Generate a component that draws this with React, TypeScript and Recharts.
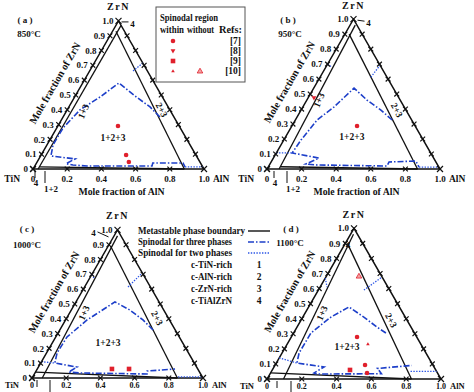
import React from "react";
import { ScatterChart, Scatter, XAxis, YAxis } from "recharts";

const W = 474;
const H = 392;
const FONT = "'Liberation Serif', 'Times New Roman', serif";
const INK = "#111";
const RED = "#e0202c";
const BLUE = "#1d3fc9";
const BLUE_DOT = "#2b55e6";
const S60 = Math.sqrt(3) / 2;

// ternary points are [AlN fraction, ZrN fraction]
type T = [number, number];
type RefPoint = { a: number; z: number; ref: string; within: boolean };
type Region = { text: string; a: number; z: number; rot?: number };

const zrnTicks = [0, 0.1, 0.2, 0.3, 0.4, 0.5, 0.6, 0.7, 0.8, 0.9, 1.0];
const zrnTickLabels = ["0", "0.1", "0.2", "0.3", "0.4", "0.5", "0.6", "0.7", "0.8", "0.9", "1.0"];
const alnTicks = [0, 0.2, 0.4, 0.6, 0.8, 1.0];
const alnTickLabels = ["0", "0.2", "0.4", "0.6", "0.8", "1.0"];
const rightTicks = [0.1, 0.2, 0.3, 0.4, 0.5, 0.6, 0.7, 0.8, 0.9];

// (a) 850 °C
const metastableA: T[][] = [
  [[0.03, 0], [0.03, 0.97]],
  [[0.02, 0.93], [0.885, 0]],
  [[0.03, 0.015], [0.885, 0]],
];
const spinodal3A: T[] = [
  [0.567, 0.351], [0.475, 0.419], [0.35, 0.493], [0.212, 0.581], [0.149, 0.486], [0.075, 0.399],
  [0.037, 0.277], [0.036, 0.162], [0.061, 0.088], [0.212, 0.068], [0.175, 0.036], [0.22, 0.027],
  [0.306, 0.02], [0.686, 0.02], [0.68, 0.041], [0.857, 0.041], [0.882, 0.014],
];
const spinodal2A: T[][] = [
  [[0.254, 0.662], [0.285, 0.716]],
  [[0.882, 0.014], [0.986, 0.014]],
];
const refPointsA: RefPoint[] = [
  { a: 0.352, z: 0.29, ref: "7", within: true },
  { a: 0.497, z: 0.095, ref: "7", within: true },
  { a: 0.537, z: 0.047, ref: "7", within: true },
];
const regionsA: Region[] = [
  { text: "1+2+3", a: 0.363, z: 0.209 },
  { text: "1+3", a: 0.1, z: 0.39, rot: -66 },
  { text: "2+3", a: 0.553, z: 0.4, rot: 62 },
];

// (b) 950 °C
const metastableB: T[][] = [
  [[0.07, 0], [0.03, 0.96]],
  [[0.025, 0.9], [0.87, 0]],
  [[0.07, 0.015], [0.87, 0]],
];
const spinodal3B: T[] = [
  [0.56, 0.327], [0.462, 0.393], [0.348, 0.46], [0.233, 0.54], [0.18, 0.413], [0.126, 0.327],
  [0.1, 0.193], [0.092, 0.107], [0.264, 0.073], [0.208, 0.033], [0.276, 0.027], [0.684, 0.02],
  [0.682, 0.047], [0.834, 0.053], [0.872, 0.013],
];
const spinodal2B: T[][] = [
  [[0, 0.107], [0.092, 0.107]],
  [[0.872, 0.013], [0.987, 0.013]],
  [[0.294, 0.613], [0.307, 0.693]],
  [[0, 0.7], [0.035, 0.68]],
];
const refPointsB: RefPoint[] = [
  { a: 0.377, z: 0.287, ref: "7", within: true },
  { a: 0.035, z: 0.473, ref: "8", within: true },
];
const regionsB: Region[] = [
  { text: "1+2+3", a: 0.384, z: 0.213 },
  { text: "1+3", a: 0.07, z: 0.46, rot: -66 },
  { text: "2+3", a: 0.555, z: 0.393, rot: 62 },
];

// (c) 1000 °C
const metastableC: T[][] = [
  [[0.06, 0], [0.02, 0.96]],
  [[0.015, 0.89], [0.85, 0]],
  [[0, 0.04], [0.85, 0]],
];
const spinodal3C: T[] = [
  [0.546, 0.324], [0.453, 0.392], [0.343, 0.459], [0.228, 0.514], [0.126, 0.392], [0.066, 0.277],
  [0.062, 0.169], [0.083, 0.101], [0.226, 0.074], [0.195, 0.04], [0.264, 0.034], [0.659, 0.027],
  [0.65, 0.047], [0.806, 0.061],
];
const spinodal2C: T[][] = [
  [[0, 0.11], [0.083, 0.101]],
  [[0.85, 0.008], [0.99, 0.008]],
  [[0.254, 0.615], [0.29, 0.709]],
  [[0, 0.7], [0.03, 0.67]],
];
const refPointsC: RefPoint[] = [
  { a: 0.437, z: 0.061, ref: "9", within: true },
  { a: 0.537, z: 0.061, ref: "9", within: true },
];
const regionsC: Region[] = [
  { text: "1+2+3", a: 0.327, z: 0.236 },
  { text: "1+3", a: 0.084, z: 0.44, rot: -66 },
  { text: "2+3", a: 0.53, z: 0.405, rot: 62 },
];

// (d) 1100 °C
const metastableD: T[][] = [
  [[0.095, 0], [0.017, 0.96]],
  [[0.012, 0.9], [0.83, 0]],
  [[0, 0.04], [0.83, 0]],
];
const spinodal3D: T[] = [
  [0.531, 0.305], [0.459, 0.345], [0.351, 0.411], [0.232, 0.478], [0.162, 0.411], [0.1, 0.305],
  [0.098, 0.173], [0.119, 0.106], [0.288, 0.08], [0.25, 0.04], [0.27, 0.033], [0.64, 0.035],
  [0.6, 0.07], [0.787, 0.09],
];
const spinodal2D: T[][] = [
  [[0, 0.14], [0.119, 0.106]],
  [[0.8, 0.05], [0.95, 0.05]],
  [[0.262, 0.59], [0.323, 0.677]],
  [[0, 0.67], [0.04, 0.61]],
];
const refPointsD: RefPoint[] = [
  { a: 0.187, z: 0.683, ref: "10", within: false },
  { a: 0.378, z: 0.279, ref: "7", within: true },
  { a: 0.464, z: 0.232, ref: "10", within: true },
  { a: 0.447, z: 0.06, ref: "9", within: true },
  { a: 0.517, z: 0.093, ref: "7", within: true },
  { a: 0.555, z: 0.04, ref: "7", within: true },
];
const regionsD: Region[] = [
  { text: "1+2+3", a: 0.354, z: 0.212 },
  { text: "1+3", a: 0.097, z: 0.438, rot: -66 },
  { text: "2+3", a: 0.518, z: 0.39, rot: 62 },
];

const refRows = ["[7]", "[8]", "[9]", "[10]"];
const legendLines = ["Metastable phase boundary", "Spinodal for three phases", "Spinodal for two phases"];
const phaseNames = ["c-TiN-rich", "c-AlN-rich", "c-ZrN-rich", "c-TiAlZrN"];
const phaseNums = ["1", "2", "3", "4"];

const PANELS = [
  {
    id: "a", ox: 33, oy: 169, L: 171, tag: "( a )", temp: "850°C", tagAt: [25, 20], tempAt: [29, 34],
    meta: metastableA, sp3: spinodal3A, sp2: spinodal2A, pts: refPointsA, regions: regionsA,
    leaders: [2, 12], four: { tx: 14, ty: 3, l: [3, 1, 10, 1] }, bottom: true,
  },
  {
    id: "b", ox: 267, oy: 169, L: 173, tag: "( b )", temp: "950°C", tagAt: [288, 20], tempAt: [290, 34],
    meta: metastableB, sp3: spinodal3B, sp2: spinodal2B, pts: refPointsB, regions: regionsB,
    leaders: [7, 20], four: { tx: 15, ty: 4, l: [4, 1, 11, 2] }, bottom: true,
  },
  {
    id: "c", ox: 32, oy: 378, L: 171, tag: "( c )", temp: "1000°C", tagAt: [27, 229], tempAt: [27, 245],
    meta: metastableC, sp3: spinodal3C, sp2: spinodal2C, pts: refPointsC, regions: regionsC,
    leaders: [5, 18], four: { tx: -24, ty: 3, l: [-20, 2, -9, 7] }, bottom: false,
  },
  {
    id: "d", ox: 267, oy: 379, L: 174, tag: "( d )", temp: "1100°C", tagAt: [291, 229], tempAt: [290, 243],
    meta: metastableD, sp3: spinodal3D, sp2: spinodal2D, pts: refPointsD, regions: regionsD,
    leaders: [10, 24], four: { tx: -6, ty: 17, l: null as number[] | null }, bottom: false,
  },
];

type Panel = (typeof PANELS)[number];

function toXY(p: Panel, a: number, z: number) {
  return { x: p.ox + p.L * (a + z / 2), y: p.oy - p.L * z * S60 };
}

function markerEl(x: number, y: number, ref: string, within: boolean) {
  if (ref === "7") return <circle cx={x} cy={y} r={2.3} fill={RED} />;
  if (ref === "8") return <path d={`M${x - 2.4},${y - 1.8}L${x + 2.4},${y - 1.8}L${x},${y + 2.4}Z`} fill={RED} />;
  if (ref === "9") return <rect x={x - 2.3} y={y - 2.3} width={4.6} height={4.6} fill={RED} />;
  if (within) return <path d={`M${x - 1.8},${y + 1.3}L${x + 1.8},${y + 1.3}L${x},${y - 1.8}Z`} fill={RED} />;
  return <path d={`M${x - 2.8},${y + 2}L${x + 2.8},${y + 2}L${x},${y - 2.8}Z`} fill="#f3a3a3" stroke={RED} strokeWidth={0.8} />;
}

function decoShape(props: any) {
  const { cx, cy, payload: d } = props;
  if (cx == null || cy == null) return <g />;
  if (d.kind === "text") {
    return (
      <text
        x={cx}
        y={cy}
        dy="0.35em"
        textAnchor={d.anchor || "start"}
        fontSize={d.size || 9}
        fontWeight={d.weight || "bold"}
        fontFamily={FONT}
        fill={INK}
        letterSpacing={d.ls}
        textLength={d.len}
        lengthAdjust={d.len ? "spacingAndGlyphs" : undefined}
        transform={d.rot ? `rotate(${d.rot} ${cx} ${cy})` : undefined}
      >
        {d.text}
      </text>
    );
  }
  if (d.kind === "rect") {
    return <rect x={cx} y={cy} width={d.w} height={d.h} fill="none" stroke="#555" strokeWidth={1} />;
  }
  if (d.kind === "seg") {
    return (
      <line
        x1={cx}
        y1={cy}
        x2={cx + d.dx}
        y2={cy + d.dy}
        stroke={d.stroke || INK}
        strokeWidth={d.width || 1}
        strokeDasharray={d.dash}
      />
    );
  }
  if (d.kind === "marker") return markerEl(cx, cy, d.ref, d.within);
  if (d.kind === "cross") {
    const s = d.s || 2.4;
    return (
      <path
        d={`M${cx - s},${cy - s}L${cx + s},${cy + s}M${cx - s},${cy + s}L${cx + s},${cy - s}`}
        stroke={INK}
        strokeWidth={1.2}
      />
    );
  }
  return <g />;
}

const noDot = () => <g />;

function polyline(key: string, pts: { x: number; y: number }[], stroke: string, width: number, dash?: string) {
  return (
    <Scatter
      key={key}
      data={pts}
      fill="none"
      line={{ stroke, strokeWidth: width, strokeDasharray: dash, fill: "none" }}
      lineType="joint"
      shape={noDot}
      isAnimationActive={false}
    />
  );
}

function panelDecos(p: Panel) {
  const out: any[] = [];
  const apex = toXY(p, 0, 1);
  const right = toXY(p, 1, 0);
  // bottom row of the lower panels sits at the page edge, so it is pulled up a little
  const labelDrop = p.bottom ? 10 : 7;
  zrnTicks.forEach((z) => out.push({ kind: "cross", ...toXY(p, 0, z), s: z === 0 || z === 1 ? 3 : 2.4 }));
  rightTicks.forEach((z) => out.push({ kind: "cross", ...toXY(p, 1 - z, z) }));
  alnTicks.forEach((a) => out.push({ kind: "cross", ...toXY(p, a, 0), s: a === 1 ? 3 : 2.4 }));
  zrnTicks.forEach((z, i) => {
    const q = toXY(p, 0, z);
    out.push({ kind: "text", x: q.x - 5, y: q.y, text: zrnTickLabels[i], anchor: "end" });
  });
  alnTicks.forEach((a, i) => {
    const q = toXY(p, a, 0);
    out.push({ kind: "text", x: q.x, y: q.y + labelDrop, text: alnTickLabels[i], anchor: "middle", size: p.bottom ? 9 : 8 });
  });
  out.push({ kind: "text", x: p.ox - 13, y: p.oy + labelDrop, text: "TiN", anchor: "end", size: p.bottom ? 9.5 : 8.5 });
  out.push({ kind: "text", x: right.x + 9, y: p.oy + labelDrop, text: "AlN", size: p.bottom ? 9.5 : 8.5 });
  out.push({ kind: "text", x: apex.x, y: apex.y - 14, text: "ZrN", anchor: "middle", size: 10, ls: 1.5 });
  const mid = toXY(p, 0, 0.5);
  out.push({ kind: "text", x: mid.x - 21, y: mid.y - 12, text: "Mole fraction of ZrN", anchor: "middle", size: 10.5, len: 92, rot: -60 });
  out.push({ kind: "text", x: p.tagAt[0], y: p.tagAt[1], text: p.tag, anchor: "middle", size: 9 });
  out.push({ kind: "text", x: p.tempAt[0], y: p.tempAt[1], text: p.temp, anchor: "middle", size: 9 });
  p.regions.forEach((r) => {
    const q = toXY(p, r.a, r.z);
    out.push({ kind: "text", x: q.x, y: q.y, text: r.text, anchor: "middle", size: 9.5, rot: r.rot });
  });
  out.push({ kind: "text", x: apex.x + p.four.tx, y: apex.y + p.four.ty, text: "4", anchor: "middle", size: 9 });
  if (p.four.l) {
    const [x1, y1, x2, y2] = p.four.l;
    out.push({ kind: "seg", x: apex.x + x1, y: apex.y + y1, dx: x2 - x1, dy: y2 - y1 });
  }
  const [l1, l2] = p.leaders;
  out.push({ kind: "seg", x: p.ox + l1, y: p.oy + 2, dx: 0, dy: 7 });
  out.push({ kind: "seg", x: p.ox + l2, y: p.oy + 2, dx: 0, dy: 12 });
  if (p.bottom) {
    out.push({ kind: "text", x: p.ox + l1 + 1, y: p.oy + 14, text: "4", anchor: "middle", size: 9 });
    out.push({ kind: "text", x: p.ox + l2 + 6, y: p.oy + 20, text: "1+2", anchor: "middle", size: 9 });
    out.push({ kind: "text", x: p.ox + p.L / 2 + 3, y: p.oy + 22, text: "Mole fraction of AlN", anchor: "middle", size: 10.5, len: 86 });
  }
  p.pts.forEach((r) => out.push({ kind: "marker", ...toXY(p, r.a, r.z), ref: r.ref, within: r.within }));
  return out;
}

function legendDecos() {
  const out: any[] = [];
  out.push({ kind: "rect", x: 156, y: 7, w: 89, h: 75 });
  out.push({ kind: "text", x: 160, y: 18, text: "Spinodal region", size: 9.5, len: 58 });
  out.push({ kind: "text", x: 160, y: 30, text: "within", size: 9.5, len: 24 });
  out.push({ kind: "text", x: 187, y: 30, text: "without", size: 9.5, len: 27 });
  out.push({ kind: "text", x: 242, y: 30, text: "Refs:", size: 9.5, anchor: "end", len: 23 });
  refRows.forEach((r, i) => {
    const y = 41 + i * 10;
    out.push({ kind: "text", x: 241, y, text: r, size: 9.5, anchor: "end" });
    out.push({ kind: "marker", x: 173, y, ref: r.slice(1, -1), within: true });
  });
  out.push({ kind: "marker", x: 200, y: 71, ref: "10", within: false });
  const styles = [
    { stroke: INK, dash: undefined, width: 1.4 },
    { stroke: BLUE, dash: "6 2 1.5 2", width: 1.6 },
    { stroke: BLUE_DOT, dash: "1.4 1.4", width: 1.3 },
  ];
  legendLines.forEach((t, i) => {
    const y = 231 + i * 11;
    out.push({ kind: "text", x: 138, y, text: t, size: 9.5, len: i === 0 ? 107 : 94 });
    out.push({ kind: "seg", x: 248, y, dx: 22, dy: 0, stroke: styles[i].stroke, dash: styles[i].dash, width: styles[i].width });
  });
  phaseNames.forEach((t, i) => {
    const y = 265 + i * 12;
    out.push({ kind: "text", x: 232, y, text: t, size: 9.5, anchor: "end", len: 41 });
    out.push({ kind: "text", x: 259, y, text: phaseNums[i], size: 9.5, anchor: "middle" });
  });
  return out;
}

export default function App() {
  const series: React.ReactNode[] = [];
  const decos: any[] = [];
  PANELS.forEach((p) => {
    const map = (pts: T[]) => pts.map(([a, z]) => toXY(p, a, z));
    series.push(polyline(`${p.id}-edge`, map([[0, 0], [1, 0], [0, 1], [0, 0]]), INK, 1.5));
    p.meta.forEach((l, i) => series.push(polyline(`${p.id}-meta-${i}`, map(l), INK, 1.3)));
    series.push(polyline(`${p.id}-sp3`, map(p.sp3), BLUE, 1.6, "6 2 1.5 2"));
    p.sp2.forEach((l, i) => series.push(polyline(`${p.id}-sp2-${i}`, map(l), BLUE_DOT, 1.3, "1.4 1.4")));
    decos.push(...panelDecos(p));
  });
  decos.push(...legendDecos());

  return (
    <div style={{ position: "absolute", left: 0, top: 0, width: W, height: H, background: "#fff" }}>
      <ScatterChart width={W} height={H} margin={{ top: 0, right: 0, bottom: 0, left: 0 }}>
        <XAxis type="number" dataKey="x" domain={[0, W]} hide allowDataOverflow />
        <YAxis type="number" dataKey="y" domain={[0, H]} reversed hide allowDataOverflow />
        {series}
        <Scatter key="deco" data={decos} shape={decoShape} isAnimationActive={false} />
      </ScatterChart>
    </div>
  );
}
